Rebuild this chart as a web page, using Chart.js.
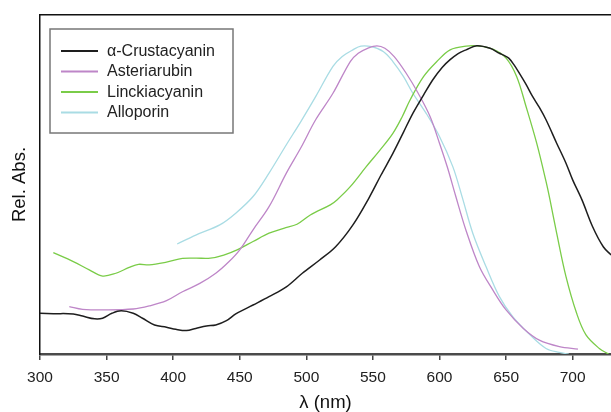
<!DOCTYPE html>
<html>
<head>
<meta charset="utf-8">
<script src="https://cdn.jsdelivr.net/npm/chart.js@4/dist/chart.umd.min.js"></script>
<style>
  html, body { margin: 0; padding: 0; background: #fff; }
  #wrap { width: 611px; height: 412px; position: relative; }
</style>
</head>
<body>
<div id="wrap"><canvas id="c" width="611" height="412"></canvas></div>
<script>
// ---- data (wavelength in nm, relative absorbance) ----
const xTickValues = [300, 350, 400, 450, 500, 550, 600, 650, 700];
const seriesNames = ['\u03b1-Crustacyanin', 'Asteriarubin', 'Linckiacyanin', 'Alloporin'];

const crustacyaninNm  = [300,310,325,332,341,347,354,361,370,377,386,395,402,410,417,425,432,440,447,455,460,472,485,497,510,522,535,547,556,565,573,580,588,595,602,608,614,620,628,638,645,648,652,656,660,665,670,675,680,688,695,700,707,715,723,729];
const crustacyaninAbs = [0.132,0.131,0.130,0.123,0.114,0.116,0.132,0.140,0.132,0.116,0.094,0.087,0.080,0.076,0.083,0.091,0.094,0.108,0.130,0.148,0.159,0.186,0.218,0.262,0.305,0.348,0.419,0.506,0.580,0.651,0.720,0.781,0.840,0.890,0.930,0.955,0.975,0.987,1.000,0.992,0.976,0.970,0.960,0.938,0.911,0.875,0.835,0.800,0.760,0.684,0.619,0.565,0.500,0.413,0.348,0.321];

const asteriarubinNm  = [322,332,350,370,382,395,407,420,432,442,450,460,472,485,496,507,520,533,539,546,553,559,566,575,584,593,600,606,612,620,630,640,650,663,675,690,704];
const asteriarubinAbs = [0.154,0.145,0.143,0.146,0.156,0.173,0.202,0.229,0.262,0.300,0.338,0.403,0.478,0.587,0.670,0.760,0.846,0.949,0.976,0.992,1.000,0.992,0.965,0.911,0.846,0.770,0.684,0.605,0.515,0.400,0.283,0.208,0.143,0.083,0.045,0.024,0.016];

const linckiacyaninNm  = [310,325,337,347,357,367,374,382,395,407,417,428,438,448,460,472,483,493,503,518,523,533,545,555,565,572,578,588,598,608,620,630,640,650,658,665,673,680,683,688,695,703,710,720,727];
const linckiacyaninAbs = [0.329,0.300,0.273,0.253,0.262,0.281,0.291,0.289,0.298,0.310,0.311,0.311,0.321,0.338,0.365,0.392,0.408,0.421,0.451,0.484,0.500,0.543,0.608,0.660,0.716,0.770,0.825,0.900,0.949,0.987,0.999,0.999,0.989,0.960,0.900,0.803,0.684,0.560,0.500,0.392,0.251,0.132,0.062,0.018,0.000];

const alloporinNm  = [403,417,435,447,460,472,485,496,507,520,527,535,541,549,558,565,573,580,590,600,610,617,625,635,645,655,668,680,690,697];
const alloporinAbs = [0.357,0.386,0.419,0.457,0.511,0.587,0.679,0.755,0.835,0.933,0.965,0.987,0.999,0.997,0.981,0.949,0.900,0.846,0.781,0.706,0.608,0.510,0.392,0.283,0.186,0.121,0.062,0.018,0.005,0.000];

const xMin = 300, xMax = 728.8;
const yMin = 0, yMax = 1.1;

function pts(xs, ys) { return xs.map((x, i) => ({ x: x, y: ys[i] })); }

const FONT = "'Liberation Sans', Arial, Helvetica, sans-serif";

const legendPlugin = {
  id: 'boxLegend',
  afterDraw(chart) {
    const ctx = chart.ctx;
    const a = chart.chartArea;
    const bx = a.left + 10, by = a.top + 14, bw = 183, bh = 104;
    ctx.save();
    ctx.fillStyle = '#ffffff';
    ctx.fillRect(bx, by, bw, bh);
    ctx.strokeStyle = '#777777';
    ctx.lineWidth = 1.5;
    ctx.strokeRect(bx, by, bw, bh);
    ctx.font = '16px ' + FONT;
    ctx.textBaseline = 'middle';
    ctx.textAlign = 'left';
    chart.data.datasets.forEach((ds, i) => {
      const y = by + 22 + i * 20.5;
      ctx.strokeStyle = ds.borderColor;
      ctx.lineWidth = 2;
      ctx.beginPath();
      ctx.moveTo(bx + 11, y);
      ctx.lineTo(bx + 48, y);
      ctx.stroke();
      ctx.fillStyle = '#222222';
      ctx.fillText(ds.label, bx + 57, y + 0.5);
    });
    ctx.restore();
  }
};

const common = { pointRadius: 0, pointHoverRadius: 0, fill: false, tension: 0.35, borderWidth: 1.3 };

new Chart(document.getElementById('c'), {
  type: 'line',
  data: {
    datasets: [
      Object.assign({}, common, { label: seriesNames[0], data: pts(crustacyaninNm, crustacyaninAbs), borderColor: '#1e1e1e', borderWidth: 1.5 }),
      Object.assign({}, common, { label: seriesNames[1], data: pts(asteriarubinNm, asteriarubinAbs), borderColor: '#be86c8' }),
      Object.assign({}, common, { label: seriesNames[2], data: pts(linckiacyaninNm, linckiacyaninAbs), borderColor: '#7acc48' }),
      Object.assign({}, common, { label: seriesNames[3], data: pts(alloporinNm, alloporinAbs), borderColor: '#a9dce4' })
    ]
  },
  options: {
    responsive: false,
    animation: false,
    devicePixelRatio: 1,
    layout: { padding: 0 },
    plugins: { legend: { display: false }, tooltip: { enabled: false } },
    scales: {
      x: {
        type: 'linear', position: 'bottom', min: xMin, max: xMax,
        afterFit(s) { s.height = 58; },
        afterBuildTicks(s) { s.ticks = xTickValues.map(v => ({ value: v })); },
        ticks: { stepSize: 50, includeBounds: false, color: '#222', font: { family: FONT, size: 15.5 }, padding: 8, maxRotation: 0 },
        grid: { display: true, drawOnChartArea: false, drawTicks: true, tickLength: 6, color: '#444', lineWidth: 1.5 },
        border: { display: true, color: '#4a4a4a', width: 2.5 },
        title: { display: true, text: '\u03bb (nm)', color: '#111', font: { family: FONT, size: 18.5, lineHeight: 1 }, padding: { top: 0, bottom: 0 } }
      },
      xTop: {
        type: 'linear', position: 'top', min: xMin, max: xMax,
        afterFit(s) { s.height = 15; },
        ticks: { display: false },
        grid: { display: false, drawTicks: false },
        border: { display: true, color: '#111', width: 1.5 }
      },
      y: {
        type: 'linear', position: 'left', min: yMin, max: yMax,
        afterFit(s) { s.width = 40; },
        ticks: { display: false },
        grid: { display: false, drawTicks: false },
        border: { display: true, color: '#111', width: 1.5 },
        title: { display: true, text: 'Rel. Abs.', color: '#111', font: { family: FONT, size: 18.5, lineHeight: 1 }, padding: { top: 10.75, bottom: 0 } }
      }
    }
  },
  plugins: [legendPlugin]
});
</script>
</body>
</html>
